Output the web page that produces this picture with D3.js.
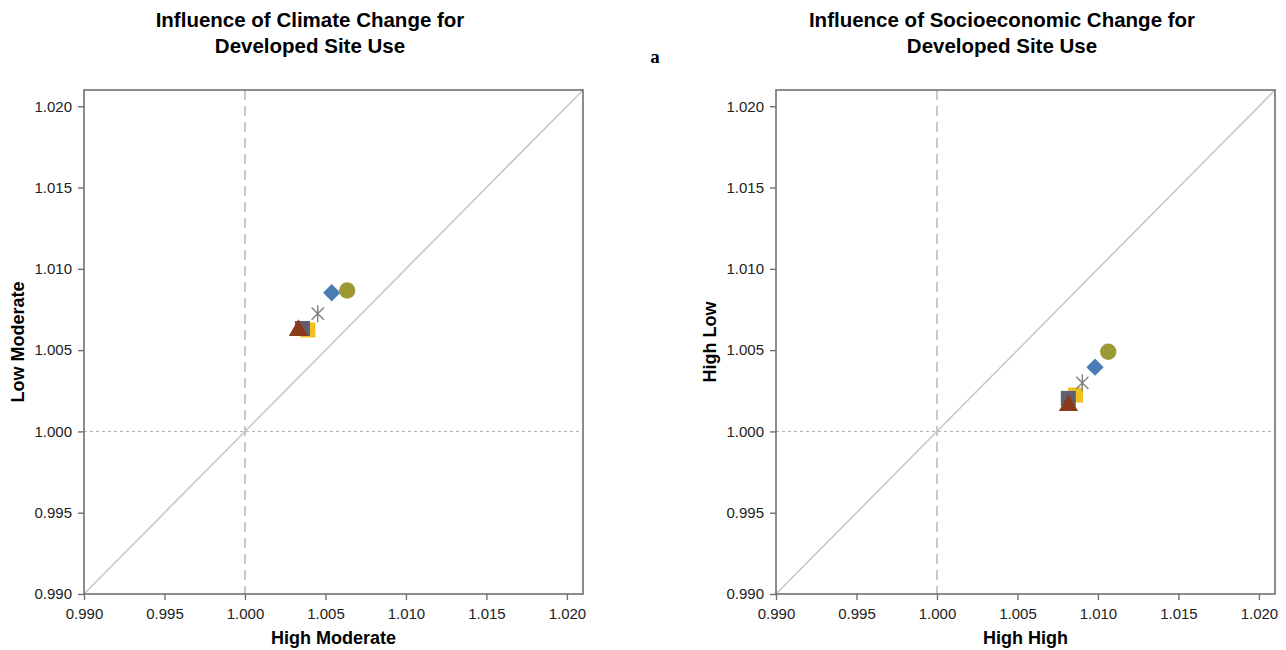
<!DOCTYPE html>
<html><head><meta charset="utf-8">
<script src="https://cdn.jsdelivr.net/npm/d3@7"></script>
<style>body{margin:0;background:#fff;}svg{display:block;font-family:"Liberation Sans",Arial,Helvetica,sans-serif;}</style>
</head><body>
<svg id="c" width="1286" height="650"></svg>
<script>
const ticks = [0.990, 0.995, 1.000, 1.005, 1.010, 1.015, 1.020];
const domain = [0.990, 1.021];
const seriesNames = ["Yellow square", "Gray square", "Triangle", "Asterisk", "Diamond", "Circle"];
const seriesShapes = ["square", "square", "triangle", "asterisk", "diamond", "circle"];
const seriesColors = ["#f0c020", "#5e6072", "#8b3a1c", "#808080", "#4a7db4", "#9c9a34"];
const climateX = [1.00391, 1.00357, 1.00332, 1.00452, 1.00539, 1.00635];
const climateY = [1.00624, 1.00633, 1.00621, 1.00724, 1.00853, 1.00867];
const socioX = [1.00861, 1.00816, 1.00817, 1.00903, 1.00982, 1.01064];
const socioY = [1.00224, 1.00203, 1.00160, 1.00299, 1.00395, 1.00490];

const panels = [
  {title: ["Influence of Climate Change for", "Developed Site Use"], xLabel: "High Moderate", yLabel: "Low Moderate", xs: climateX, ys: climateY, left: 84, titleX: 310},
  {title: ["Influence of Socioeconomic Change for", "Developed Site Use"], xLabel: "High High", yLabel: "High Low", xs: socioX, ys: socioY, left: 776, titleX: 1002}
];

const svg = d3.select("#c");
const plotTop = 90, plotBottom = 594, plotWidth = 499;

svg.append("text").attr("x", 655).attr("y", 63).attr("text-anchor", "middle")
  .attr("font-family", "'Liberation Serif','Times New Roman',serif").attr("font-weight", "bold")
  .attr("font-size", 19).attr("fill", "#000").text("a");

panels.forEach(p => {
  const x = d3.scaleLinear().domain(domain).range([p.left, p.left + plotWidth]);
  const y = d3.scaleLinear().domain(domain).range([plotBottom, plotTop]);
  const g = svg.append("g");
  const cx = p.left + plotWidth / 2;

  const t = g.append("text").attr("text-anchor", "middle").attr("font-weight", "bold").attr("font-size", 20.5).attr("fill", "#000");
  p.title.forEach((line, i) => t.append("tspan").attr("x", p.titleX).attr("y", 27 + i * 26).text(line));

  g.append("line").attr("x1", x(domain[0])).attr("y1", y(domain[0])).attr("x2", x(domain[1])).attr("y2", y(domain[1]))
    .attr("stroke", "#c8c8c8").attr("stroke-width", 1.6);
  g.append("line").attr("x1", x(1)).attr("x2", x(1)).attr("y1", plotTop).attr("y2", plotBottom)
    .attr("stroke", "#c8c8c8").attr("stroke-width", 2).attr("stroke-dasharray", "10,6");
  g.append("line").attr("x1", p.left).attr("x2", p.left + plotWidth).attr("y1", y(1)).attr("y2", y(1))
    .attr("stroke", "#b0b0b0").attr("stroke-width", 1).attr("stroke-dasharray", "3,3");

  g.append("rect").attr("x", p.left).attr("y", plotTop).attr("width", plotWidth).attr("height", plotBottom - plotTop)
    .attr("fill", "none").attr("stroke", "#707070").attr("stroke-width", 1.6);

  const fmt = d3.format(".3f");
  const xa = g.append("g").attr("transform", `translate(0,${plotBottom})`)
    .call(d3.axisBottom(x).tickValues(ticks).tickFormat(fmt).tickSize(6).tickPadding(8));
  const ya = g.append("g").attr("transform", `translate(${p.left},0)`)
    .call(d3.axisLeft(y).tickValues(ticks).tickFormat(fmt).tickSize(6).tickPadding(6));
  [xa, ya].forEach(a => {
    a.select(".domain").remove();
    a.selectAll(".tick line").attr("stroke", "#707070").attr("stroke-width", 1.4);
    a.selectAll(".tick text").attr("font-size", 15).attr("fill", "#222").attr("font-family", "'Liberation Sans',Arial,sans-serif");
  });

  g.append("text").attr("x", cx).attr("y", 644).attr("text-anchor", "middle").attr("font-weight", "bold")
    .attr("font-size", 18).attr("fill", "#000").text(p.xLabel);
  g.append("text").attr("transform", `translate(${p.left - 60},${(plotTop + plotBottom) / 2}) rotate(-90)`)
    .attr("text-anchor", "middle").attr("font-weight", "bold").attr("font-size", 18).attr("fill", "#000").text(p.yLabel);

  seriesShapes.forEach((shape, i) => {
    const px = x(p.xs[i]), py = y(p.ys[i]);
    const col = seriesColors[i];
    if (shape === "asterisk") {
      const r = 8.5, k = r * 0.72;
      const d = `M${px - k},${py - k}L${px + k},${py + k}M${px - k},${py + k}L${px + k},${py - k}M${px},${py - r}L${px},${py + r}`;
      g.append("path").attr("d", d).attr("stroke", col).attr("stroke-width", 1.4).attr("fill", "none");
    } else {
      const sym = {square: d3.symbolSquare, triangle: d3.symbolTriangle, diamond: d3.symbolSquare, circle: d3.symbolCircle}[shape];
      const size = {square: 225, triangle: 160, diamond: 150, circle: 210}[shape];
      const rot = shape === "diamond" ? 45 : 0;
      g.append("path").attr("d", d3.symbol().type(sym).size(size)())
        .attr("transform", `translate(${px},${py}) rotate(${rot})`)
        .attr("fill", col);
    }
  });
});
</script>
</body></html>
